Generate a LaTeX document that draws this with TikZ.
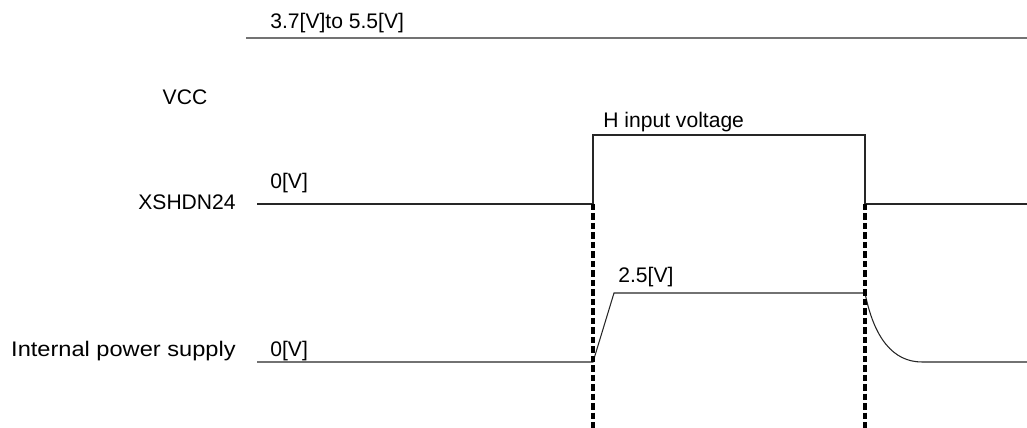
\documentclass[tikz,border=0pt]{standalone}
\usepackage{fontspec}
\setmainfont{Liberation Sans}
\tikzset{
    sig/.style={line width=0.6pt, black!85},
    rail/.style={line width=1.1pt, black!55},
    cut/.style={line width=2pt, dash pattern=on 3.6pt off 1.8pt},
    lbl/.style={inner sep=0pt, font=\fontsize{12}{14}\selectfont}
}

\begin{document}
\begin{tikzpicture}[x=0.02cm, y=-0.02cm]
    \useasboundingbox (0,0) rectangle (1027,428);

    % labels
    \node[lbl, anchor=base west] (vcclvl) at (270,29) {3.7[V]to 5.5[V]};
    \node[lbl] (vcc) at (185,97) {VCC};
    \node[lbl, anchor=base east] (xsh) at (236,210) {XSHDN24};
    \node[lbl, anchor=base west] (xshlow) at (270,189) {0[V]};
    \node[lbl, anchor=base west] (hin) at (603,128) {H input voltage};
    \node[lbl, anchor=base east] (ips) at (236,357) {\scalebox{1.12}[1]{Internal power supply}};
    \node[lbl, anchor=base west] (ipslow) at (270,357) {0[V]};
    \node[lbl, anchor=base west] (ipshigh) at (618,283) {2.5[V]};

    % VCC
    \coordinate (v0) at (246,38);
    \coordinate (v1) at (1027,38);
    \draw[rail] (v0) -- (v1);

    % XSHDN24
    \coordinate (x0) at (257,204);
    \coordinate (xup) at (593,204);
    \coordinate (xdn) at (865,204);
    \coordinate (x1) at (1027,204);
    \draw[sig] (x0) -- (xup) -- (593,135) -- (865,135) -- (xdn) -- (x1);

    % internal supply
    \coordinate (p0) at (257,362);
    \coordinate (prise) at (593,362);
    \coordinate (ptop) at (614,293);
    \coordinate (pfall) at (865,293);
    \coordinate (pend) at (922,362);
    \coordinate (p1) at (1027,362);
    \draw[sig] (p0) -- (prise) -- (ptop) -- (pfall)
        .. controls (874,338) and (893,362) .. (pend) -- (p1);

    % timing marks
    \draw[cut] (xup) -- (593,428);
    \draw[cut] (xdn) -- (865,428);
\end{tikzpicture}
\end{document}
